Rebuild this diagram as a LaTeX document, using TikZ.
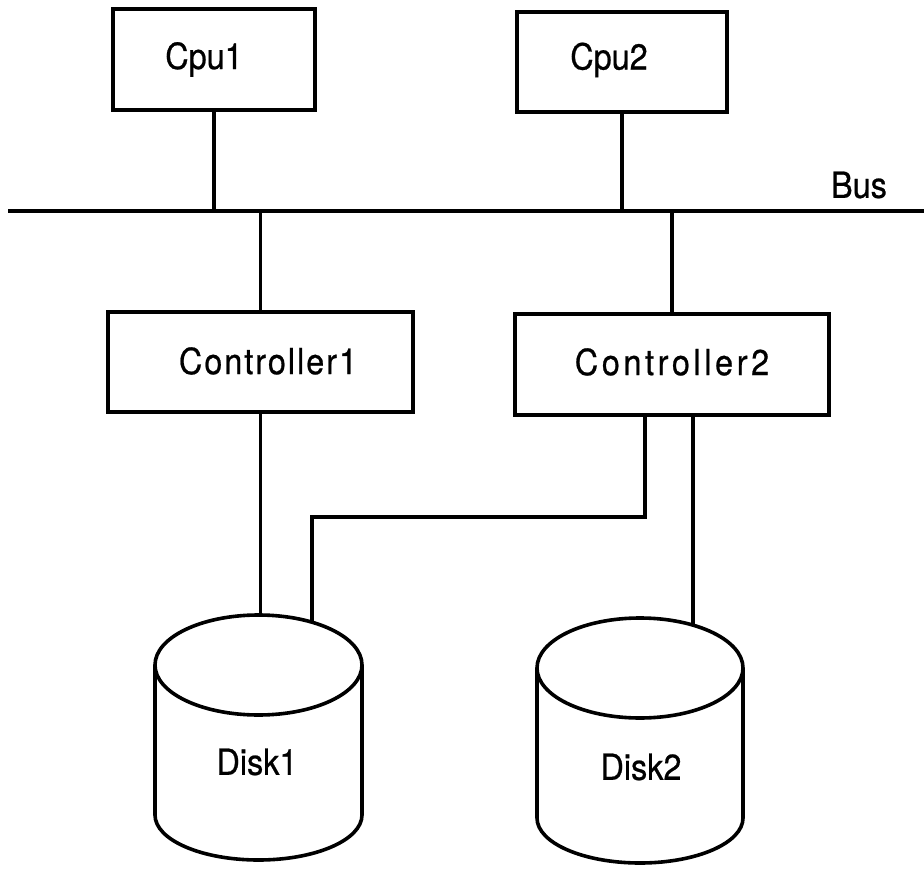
\documentclass[tikz,border=0pt]{standalone}
\usepackage{fontspec}
\setmainfont{TeX Gyre Heros}
\usetikzlibrary{calc}
\begin{document}
\begin{tikzpicture}[x=1pt,y=-1pt,
  line width=3.6pt,
  unit/.style={draw, rectangle, inner sep=0pt},
  lbl/.style={font=\fontsize{36}{40}\selectfont\addfontfeature{FakeStretch=0.9,FakeBold=0.6}, inner sep=0pt},
  wide/.style={font=\fontsize{36}{40}\selectfont\addfontfeature{FakeStretch=0.9,FakeBold=0.6,LetterSpace=5.5}, inner sep=0pt},
  wider/.style={font=\fontsize{36}{40}\selectfont\addfontfeature{FakeStretch=0.9,FakeBold=0.6,LetterSpace=10}, inner sep=0pt},
]
\useasboundingbox[fill=white] (0,0) rectangle (924,869);

% processors
\node[unit, minimum width=202pt, minimum height=101pt] (cpu1) at (214,59.5) {};
\node[lbl] (cpu1txt) at (204,59.5) {Cpu1};
\node[unit, minimum width=210pt, minimum height=100pt] (cpu2) at (622,62) {};
\node[lbl] (cpu2txt) at (609,60) {Cpu2};

% system bus
\coordinate (busW) at (8,211);
\coordinate (busE) at (924,211);
\draw (busW) -- (busE);
\node[lbl] (buslbl) at (859,185) {Bus};

% controllers
\node[unit, minimum width=305pt, minimum height=100pt] (ctrl1) at (260.5,362) {};
\node[wide] (ctrl1txt) at (268,361) {Controller1};
\node[unit, minimum width=314pt, minimum height=101pt] (ctrl2) at (672,364.5) {};
\node[wider] (ctrl2txt) at (672,362) {Controller2};

% disks
\draw (258.5,665) ellipse [x radius=103.5, y radius=50];
\draw (155,665) -- (155,815) arc [start angle=180, end angle=0, x radius=103.5, y radius=45] -- (362,665);
\node[lbl] (disk1) at (257,762) {Disk1};
\draw (640,668) ellipse [x radius=103, y radius=50];
\draw (537,668) -- (537,818) arc [start angle=180, end angle=0, x radius=103, y radius=45] -- (743,668);
\node[lbl] (disk2) at (641,767) {Disk2};

% attachment points on the disk lids
\coordinate (d1main) at (260.5,615);
\coordinate (d1alt) at (312,622);
\coordinate (d2main) at (693,625);
\coordinate (jog) at (645,517);

% connections
\draw (cpu1.south) -- (cpu1.south |- busW);
\draw (cpu2.south) -- (cpu2.south |- busW);
\draw (ctrl1.north) -- (ctrl1.north |- busW);
\draw (ctrl2.north) -- (ctrl2.north |- busW);
\draw (ctrl1.south) -- (d1main);
\draw (jog |- ctrl2.south) -- (jog) -| (d1alt);
\draw (d2main |- ctrl2.south) -- (d2main);
\end{tikzpicture}
\end{document}
